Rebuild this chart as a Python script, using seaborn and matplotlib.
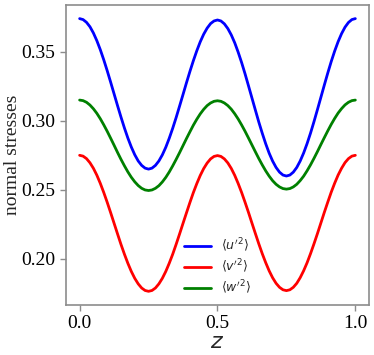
import matplotlib
matplotlib.use("Agg")
import matplotlib.pyplot as plt
import seaborn as sns
import pandas as pd

# values, z = 0, 0.0125, ..., 1.0
z = [i * 0.0125 for i in range(81)]

uu = [0.374, 0.3733, 0.3713, 0.3681, 0.3636, 0.3580, 0.3515, 0.3442, 0.3363, 0.3280,
      0.3195, 0.3110, 0.3027, 0.2948, 0.2875, 0.2810, 0.2754, 0.2709, 0.2677, 0.2657,
      0.265, 0.2657, 0.2677, 0.2709, 0.2753, 0.2808, 0.2873, 0.2945, 0.3023, 0.3106,
      0.319, 0.3275, 0.3357, 0.3435, 0.3507, 0.3572, 0.3627, 0.3671, 0.3704, 0.3723,
      0.373, 0.3723, 0.3702, 0.3668, 0.3622, 0.3565, 0.3497, 0.3422, 0.334, 0.3253,
      0.3165, 0.3077, 0.2990, 0.2909, 0.2833, 0.2765, 0.2708, 0.2662, 0.2628, 0.2607,
      0.260, 0.2607, 0.2628, 0.2662, 0.2709, 0.2767, 0.2835, 0.2911, 0.2994, 0.3081,
      0.317, 0.3259, 0.3346, 0.3429, 0.3505, 0.3573, 0.3631, 0.3678, 0.3712, 0.3733,
      0.374]
vv = [0.275, 0.2744, 0.2726, 0.2696, 0.2656, 0.2606, 0.2547, 0.2481, 0.241, 0.2335,
      0.2258, 0.2181, 0.2105, 0.2034, 0.1968, 0.1909, 0.1859, 0.1819, 0.1789, 0.1771,
      0.1765, 0.1771, 0.1789, 0.1819, 0.1859, 0.1909, 0.1968, 0.2033, 0.2105, 0.218,
      0.2257, 0.2333, 0.2408, 0.248, 0.2545, 0.2604, 0.2654, 0.2694, 0.2724, 0.2742,
      0.2748, 0.2742, 0.2724, 0.2695, 0.2655, 0.2605, 0.2546, 0.2481, 0.241, 0.2336,
      0.2259, 0.2183, 0.2108, 0.2037, 0.1972, 0.1913, 0.1863, 0.1823, 0.1794, 0.1776,
      0.177, 0.1776, 0.1794, 0.1823, 0.1864, 0.1914, 0.1972, 0.2038, 0.2109, 0.2183,
      0.226, 0.2337, 0.2411, 0.2483, 0.2548, 0.2607, 0.2656, 0.2697, 0.2726, 0.2744,
      0.275]
ww = [0.315, 0.3146, 0.3134, 0.3114, 0.3087, 0.3054, 0.3015, 0.2971, 0.2924, 0.2874,
      0.2823, 0.2771, 0.2721, 0.2674, 0.263, 0.2591, 0.2558, 0.2531, 0.2511, 0.2499,
      0.2495, 0.2499, 0.2511, 0.253, 0.2557, 0.259, 0.2629, 0.2673, 0.272, 0.2769,
      0.282, 0.2871, 0.292, 0.2968, 0.3011, 0.305, 0.3083, 0.311, 0.3129, 0.3141,
      0.3145, 0.3141, 0.3129, 0.311, 0.3084, 0.3051, 0.3013, 0.297, 0.2924, 0.2875,
      0.2825, 0.2775, 0.2726, 0.268, 0.2637, 0.2599, 0.2566, 0.254, 0.2521, 0.2509,
      0.2505, 0.2509, 0.2521, 0.254, 0.2567, 0.2599, 0.2638, 0.2681, 0.2728, 0.2777,
      0.2828, 0.2878, 0.2927, 0.2974, 0.3017, 0.3056, 0.3088, 0.3115, 0.3134, 0.3146,
      0.315]

labels = [r"$\langle u'^2 \rangle$", r"$\langle v'^2 \rangle$", r"$\langle w'^2 \rangle$"]
colors = ["blue", "red", "green"]

df = pd.concat([
    pd.DataFrame({"z": z, "stress": s, "comp": lab})
    for s, lab in zip([uu, vv, ww], labels)
])

sns.set_style("ticks")
plt.rcParams["axes.edgecolor"] = "0.55"
plt.rcParams["xtick.color"] = "0.55"
plt.rcParams["ytick.color"] = "0.55"
plt.rcParams["xtick.labelcolor"] = "black"
plt.rcParams["ytick.labelcolor"] = "black"

fig = plt.figure(figsize=(3.74, 3.55), dpi=100)
ax = fig.add_axes([0.176, 0.141, 0.811, 0.845])
sns.lineplot(data=df, x="z", y="stress", hue="comp", palette=colors,
             linewidth=2, sort=False, ax=ax)

ax.set_xticks([0.0, 0.5, 1.0])
ax.set_yticks([0.20, 0.25, 0.30, 0.35])
for lab in ax.get_xticklabels() + ax.get_yticklabels():
    lab.set_fontfamily("Liberation Serif")
    lab.set_fontsize(14)
ax.set_ylabel("normal stresses", family="Liberation Serif", fontsize=14, labelpad=0)
ax.set_xlabel("$z$", fontsize=16, labelpad=0)
ax.tick_params(length=4, width=1)
for sp in ax.spines.values():
    sp.set_linewidth(1.2)

ax.legend(loc="lower center", frameon=False, fontsize=9, handlelength=2.2,
          labelspacing=0.25, borderaxespad=0.3)

fig.savefig("out.png", dpi=100)
